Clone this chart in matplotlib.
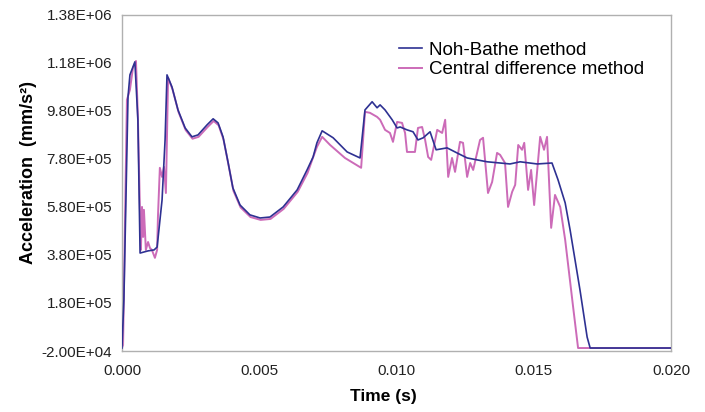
import matplotlib
matplotlib.use("Agg")
import matplotlib.pyplot as plt
from matplotlib.ticker import FuncFormatter

plt.rcParams['font.family'] = ['Liberation Sans', 'DejaVu Sans']

# time (s) and acceleration (mm/s^2), Noh-Bathe scheme
t_nb = [0.0, 0.00007, 0.00022, 0.00029, 0.00047, 0.00058, 0.00066, 0.00095,
        0.00117, 0.00128, 0.00146, 0.00157, 0.00164, 0.00182, 0.00204, 0.00230,
        0.00255, 0.00277, 0.00310, 0.00332, 0.00350, 0.00368, 0.00386, 0.00404,
        0.00430, 0.00466, 0.00503, 0.00539, 0.00587, 0.00638, 0.00674, 0.00696,
        0.00710, 0.00729, 0.00769, 0.00820, 0.00867, 0.00885, 0.00911,
        0.00929, 0.00940, 0.00958, 0.00984, 0.01002, 0.01013, 0.01038, 0.01060,
        0.01078, 0.01097, 0.01122, 0.01144, 0.01184, 0.01220, 0.01257, 0.01293,
        0.01330, 0.01377, 0.01413, 0.01450, 0.01512, 0.01566, 0.01588, 0.01614,
        0.01632, 0.01668, 0.01694, 0.01705, 0.02000]
a_nb = [-7.5e3, 1.93e5, 1.038e6, 1.130e6, 1.184e6, 9.43e5, 3.88e5, 3.97e5,
        4.01e5, 4.13e5, 6.09e5, 8.59e5, 1.130e6, 1.080e6, 9.84e5, 9.09e5,
        8.72e5, 8.80e5, 9.22e5, 9.47e5, 9.30e5, 8.72e5, 7.68e5, 6.59e5,
        5.88e5, 5.47e5, 5.34e5, 5.38e5, 5.80e5, 6.51e5, 7.34e5, 7.88e5,
        8.47e5, 8.97e5, 8.68e5, 8.09e5, 7.84e5, 9.84e5, 1.018e6,
        9.93e5, 1.005e6, 9.84e5, 9.43e5, 9.09e5, 9.13e5, 9.01e5, 8.93e5,
        8.59e5, 8.68e5, 8.93e5, 8.18e5, 8.26e5, 8.05e5, 7.84e5, 7.76e5,
        7.68e5, 7.63e5, 7.59e5, 7.68e5, 7.59e5, 7.63e5, 6.93e5, 5.97e5,
        4.84e5, 2.34e5, 3.8e4, -7.5e3, -7.5e3]

# central difference scheme
t_cd = [0.0, 0.00004, 0.00018, 0.00029, 0.00040, 0.00051, 0.00058, 0.00066,
        0.00069, 0.00073, 0.00077, 0.00080, 0.00087, 0.00095, 0.00102, 0.00109,
        0.00120, 0.00128, 0.00131, 0.00138, 0.00146, 0.00153, 0.00160, 0.00168,
        0.00184, 0.00206, 0.00232, 0.00257, 0.00279, 0.00312, 0.00334, 0.00352,
        0.00370, 0.00388, 0.00406, 0.00432, 0.00468, 0.00505, 0.00541, 0.00589,
        0.00640, 0.00676, 0.00694, 0.00710, 0.00729, 0.00758, 0.00812,
        0.00871, 0.00885, 0.00903, 0.00929, 0.00940, 0.00958, 0.00976, 0.00987,
        0.01002, 0.01020, 0.01031, 0.01038, 0.01067, 0.01078, 0.01093, 0.01104,
        0.01115, 0.01126, 0.01148, 0.01166, 0.01177, 0.01188, 0.01202, 0.01213,
        0.01231, 0.01242, 0.01257, 0.01268, 0.01279, 0.01304, 0.01315, 0.01333,
        0.01348, 0.01366, 0.01377, 0.01395, 0.01406, 0.01421, 0.01432, 0.01443,
        0.01457, 0.01465, 0.01479, 0.01490, 0.01501, 0.01523, 0.01537, 0.01548,
        0.01563, 0.01577, 0.01596, 0.01614, 0.01643, 0.01661, 0.02000]
a_cd = [-7.5e3, 5e3, 1.026e6, 1.068e6, 1.159e6, 1.188e6, 9.55e5, 5.38e5,
        4.01e5, 5.80e5, 4.55e5, 5.68e5, 4.01e5, 4.34e5, 4.09e5, 4.01e5,
        3.68e5, 4.01e5, 5.38e5, 7.43e5, 7.05e5, 7.47e5, 6.38e5, 1.118e6,
        1.070e6, 9.75e5, 9.00e5, 8.64e5, 8.72e5, 9.13e5, 9.38e5, 9.20e5,
        8.60e5, 7.55e5, 6.47e5, 5.78e5, 5.38e5, 5.26e5, 5.30e5, 5.72e5,
        6.43e5, 7.22e5, 7.80e5, 8.30e5, 8.72e5, 8.38e5, 7.84e5,
        7.43e5, 9.76e5, 9.72e5, 9.55e5, 9.43e5, 9.01e5, 8.88e5, 8.51e5,
        9.34e5, 9.30e5, 8.88e5, 8.09e5, 8.09e5, 9.09e5, 9.13e5, 8.59e5,
        7.88e5, 7.76e5, 9.01e5, 8.88e5, 9.43e5, 7.05e5, 7.84e5, 7.26e5,
        8.51e5, 8.47e5, 7.05e5, 7.63e5, 7.34e5, 8.59e5, 8.68e5, 6.38e5,
        6.84e5, 8.05e5, 7.97e5, 7.63e5, 5.80e5, 6.43e5, 6.72e5, 8.38e5,
        8.18e5, 8.47e5, 6.51e5, 7.34e5, 5.88e5, 8.72e5, 8.18e5, 8.72e5,
        4.93e5, 6.30e5, 5.80e5, 4.43e5, 1.63e5, -7.5e3, -7.5e3]

x_ticks = [0.0, 0.005, 0.010, 0.015, 0.020]
y_ticks = [-2.0e4, 1.8e5, 3.8e5, 5.8e5, 7.8e5, 9.8e5, 1.18e6, 1.38e6]

fig = plt.figure(figsize=(7.05, 4.12), dpi=100)
ax = fig.add_axes([0.173, 0.148, 0.779, 0.816])

ax.plot(t_nb, a_nb, color='#2e3192', lw=1.2, label='Noh-Bathe method', zorder=3)
ax.plot(t_cd, a_cd, color='#cc6bb8', lw=1.4, label='Central difference method', zorder=2)

ax.set_xlim(0, 0.02)
ax.set_ylim(-2.0e4, 1.38e6)
ax.set_xticks(x_ticks)
ax.set_yticks(y_ticks)
ax.xaxis.set_major_formatter(FuncFormatter(lambda v, p: '%.3f' % v))
ax.yaxis.set_major_formatter(FuncFormatter(lambda v, p: '%.2E' % v))
ax.tick_params(length=0, labelsize=11, colors='#222222', pad=7)
ax.tick_params(axis='x', pad=9)

for s in ax.spines.values():
    s.set_color('#b0b0b0')
    s.set_linewidth(1.0)

ax.set_xlabel('Time (s)', fontsize=12.5, fontweight='bold')
ax.xaxis.set_label_coords(0.476, -0.113)
ax.set_ylabel('Acceleration  (mm/s²)', fontsize=13, fontweight='bold')
ax.yaxis.set_label_coords(-0.155, 0.53)

ax.legend(loc='upper left', bbox_to_anchor=(0.481, 0.96), frameon=False,
          fontsize=13.5, handlelength=1.2, handletextpad=0.4, labelspacing=0.15,
          borderpad=0.2)

fig.savefig('out.png', dpi=100)
